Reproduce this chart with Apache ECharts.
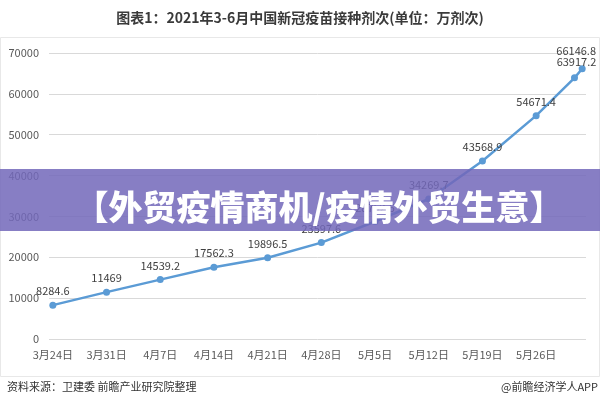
<!DOCTYPE html>
<html>
<head>
<meta charset="utf-8">
<script src="https://cdn.jsdelivr.net/npm/echarts@6/dist/echarts.min.js"></script>
<style>html,body{margin:0;padding:0;background:#fff}#c{width:600px;height:400px}</style>
</head>
<body>
<div id="c"></div>
<script>
const titleText = '图表1：2021年3-6月中国新冠疫苗接种剂次(单位：万剂次)';
const dates = ['2021-03-24','2021-03-31','2021-04-07','2021-04-14','2021-04-21','2021-04-28','2021-05-05','2021-05-12','2021-05-19','2021-05-26','2021-05-31','2021-06-01'];
const doses = [8284.6, 11469, 14539.2, 17562.3, 19896.5, 23597.6, 28752.5, 34269.7, 43568.9, 54671.4, 63917.2, 66146.8];
const tickDates = ['2021-03-24','2021-03-31','2021-04-07','2021-04-14','2021-04-21','2021-04-28','2021-05-05','2021-05-12','2021-05-19','2021-05-26'];
const sourceText = '资料来源：卫建委 前瞻产业研究院整理';
const creditText = '@前瞻经济学人APP';
const bannerText = '【外贸疫情商机/疫情外贸生意】';

const DAY = 86400000;
const t0 = Date.parse(dates[0]);
const dayOf = d => Math.round((Date.parse(d) - t0) / DAY);
const fmtDate = d => { const p = d.split('-'); return (+p[1]) + '月' + (+p[2]) + '日'; };
const tickDays = tickDates.map(dayOf);
const labelByDay = {};
tickDates.forEach(d => { labelByDay[dayOf(d)] = fmtDate(d); });

const labelOffsets = {10: [2, -2], 11: [-6, -4]};
const seriesData = doses.map((v, i) => {
  const item = { value: [dayOf(dates[i]), v] };
  if (labelOffsets[i]) item.label = { offset: labelOffsets[i] };
  return item;
});

const FONT = '"Noto Sans CJK SC", "Noto Sans", sans-serif';
const chart = echarts.init(document.getElementById('c'));
chart.setOption({
  animation: false,
  backgroundColor: '#fff',
  textStyle: { fontFamily: FONT },
  title: {
    text: titleText, left: 'center', top: 6,
    textStyle: { fontSize: 14, fontWeight: 'bold', color: '#3a3a3a', fontFamily: FONT }
  },
  grid: { left: 49, right: 14, top: 53, bottom: 61, containLabel: false },
  xAxis: {
    type: 'value', min: -0.5, max: 69.5,
    axisLine: { show: false }, axisTick: { show: false }, splitLine: { show: false },
    axisLabel: {
      customValues: tickDays, margin: 10, fontSize: 11, color: '#595959',
      formatter: v => labelByDay[Math.round(v)] || ''
    }
  },
  yAxis: {
    type: 'value', min: 0, max: 70000, interval: 10000,
    axisLine: { show: false }, axisTick: { show: false },
    splitLine: { lineStyle: { color: '#d9d9d9', width: 1 } },
    axisLabel: { margin: 10, fontSize: 11, color: '#595959', formatter: v => String(v) }
  },
  series: [{
    type: 'line',
    data: seriesData,
    symbol: 'circle', symbolSize: 7,
    lineStyle: { color: '#5b9bd5', width: 2.5 },
    itemStyle: { color: '#5b9bd5' },
    label: { show: true, position: 'top', distance: 5, fontSize: 11, color: '#404040', fontFamily: FONT }
  }],
  graphic: [
    { type: 'rect', z: 0, silent: true, shape: { x: 0.5, y: 37.5, width: 599, height: 339 },
      style: { fill: 'none', stroke: '#e8e8e8', lineWidth: 1 } },
    { type: 'rect', z: 100, silent: true, shape: { x: 0, y: 169, width: 600, height: 62 },
      style: { fill: 'rgba(114,103,186,0.85)' } },
    { type: 'text', z: 101, silent: true, x: 319, y: 207,
      style: { text: bannerText, fill: '#ffffff', font: '900 34px "Noto Sans CJK SC"', textAlign: 'center', textVerticalAlign: 'middle' } },
    { type: 'text', z: 10, silent: true, x: 7, y: 387,
      style: { text: sourceText, fill: '#333333', font: '11px "Noto Sans CJK SC"', textAlign: 'left', textVerticalAlign: 'middle' } },
    { type: 'text', z: 10, silent: true, x: 598, y: 387,
      style: { text: creditText, fill: '#333333', font: '11px "Noto Sans CJK SC"', textAlign: 'right', textVerticalAlign: 'middle' } }
  ]
});
</script>
</body>
</html>
